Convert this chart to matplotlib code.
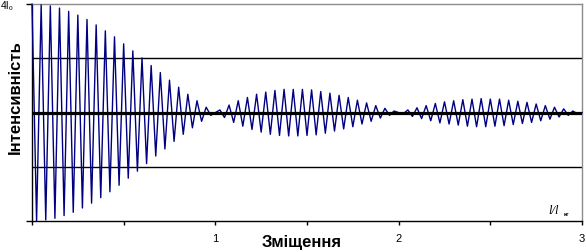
import numpy as np
import matplotlib
matplotlib.use("Agg")
import matplotlib.pyplot as plt

# Intensity (in units of I0) at successive extrema of the fringe pattern,
# read from the chart; extrema are spaced half a fringe period apart.
step = 0.025
intensity = [
    4.00, 0.00, 3.99, 0.02, 3.97, 0.05, 3.93, 0.10, 3.87, 0.16,
    3.80, 0.24, 3.72, 0.33, 3.62, 0.43, 3.51, 0.54, 3.40, 0.66,
    3.27, 0.79, 3.14, 0.92, 3.01, 1.06, 2.87, 1.20, 2.74, 1.33,
    2.60, 1.47, 2.47, 1.60, 2.34, 1.72, 2.22, 1.84, 2.10, 1.95,
    2.00, 2.05, 1.91, 2.14, 1.82, 2.22, 1.75, 2.28, 1.69, 2.34,
    1.64, 2.38, 1.60, 2.41, 1.58, 2.43, 1.57, 2.43, 1.57, 2.43,
    1.58, 2.42, 1.59, 2.39, 1.62, 2.36, 1.66, 2.32, 1.70, 2.28,
    1.74, 2.23, 1.79, 2.18, 1.84, 2.13, 1.90, 2.08, 1.95, 2.03,
    2.00, 1.98, 2.05, 1.93, 2.09, 1.89, 2.13, 1.85, 2.17, 1.81,
    2.20, 1.79, 2.22, 1.77, 2.24, 1.75, 2.25, 1.74, 2.26, 1.74,
    2.25, 1.75, 2.25, 1.76, 2.23, 1.78, 2.21, 1.80, 2.19, 1.82,
    2.16, 1.85, 2.13, 1.88, 2.10, 1.92, 2.07, 1.95, 2.03, 1.98,
    2.00,
]
displacement = np.arange(len(intensity)) * step

x_ticks = [0, 0.5, 1, 1.5, 2, 2.5, 3]
x_tick_labels = ["", "", "1", "", "2", "", "3"]
grid_levels = [1, 3]
center_level = 2

plt.rcParams['font.family'] = ['Liberation Sans', 'DejaVu Sans']

fig = plt.figure(figsize=(5.86, 2.53), dpi=100)
W, H = 586, 253
ax = fig.add_axes([32 / W, 1 - 222 / H, 550 / W, (222 - 5.3) / H])

ax.plot(displacement, intensity, color="#000080", lw=1.0, zorder=3, clip_on=False)

for g in grid_levels:
    ax.axhline(g, color="black", lw=1.0, zorder=2)
ax.axhline(center_level, color="black", lw=2.3, zorder=4)

ax.set_xlim(0, 3)
ax.set_ylim(0, 4)

for s in ("left", "bottom"):
    ax.spines[s].set_color("black")
    ax.spines[s].set_linewidth(1.0)
for s in ("top", "right"):
    ax.spines[s].set_color("#8c8c8c")
    ax.spines[s].set_linewidth(1.0)

ax.set_xticks(x_ticks)
ax.set_xticklabels(x_tick_labels, fontsize=8)
ax.tick_params(axis="x", direction="out", length=3, width=1.0, pad=6)
ax.set_yticks([0, 4])
ax.set_yticklabels(["", ""])
ax.tick_params(axis="y", direction="out", length=4, width=1.0)

fig.text(1 / W, 1 - 1.5 / H, "4I₀", fontsize=7.5, ha="left", va="top",
         family=["Liberation Sans", "DejaVu Sans"])
fig.text(15 / W, 1 - 97.5 / H, "Інтенсивність", rotation=90, fontsize=12,
         fontweight="bold", ha="center", va="center")
fig.text(301.7 / W, 1 - 243 / H, "Зміщення", fontsize=12,
         fontweight="bold", ha="center", va="center")
fig.text(548 / W, 1 - 211 / H, "l/l", fontsize=9, style="italic",
         family=["Liberation Serif"], ha="left", va="center")
fig.text(564 / W, 1 - 214.5 / H, "кг", fontsize=4.5, fontweight="bold",
         ha="left", va="center")

fig.savefig("out.png", dpi=100)
